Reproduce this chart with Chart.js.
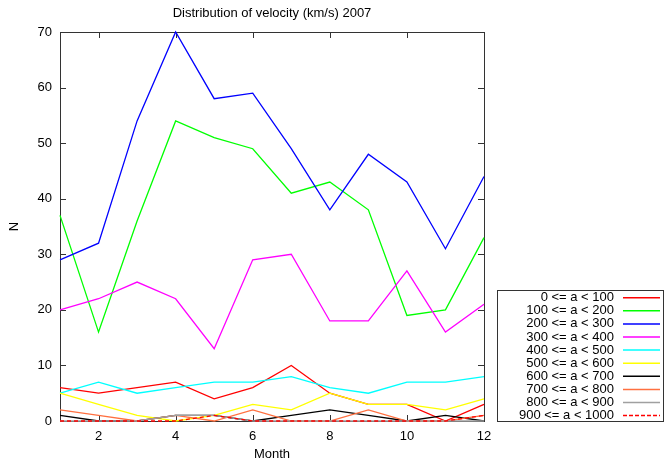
<!DOCTYPE html>
<html>
<head>
<meta charset="utf-8">
<script src="https://cdn.jsdelivr.net/npm/chart.js@4.4.1/dist/chart.umd.min.js"></script>
<style>
    html, body { margin: 0; padding: 0; background: #fff; }
    #wrap { width: 665px; height: 460px; }
</style>
</head>
<body>
<div id="wrap"><canvas id="chartVelocidad" width="665" height="460"></canvas></div>
<script>
// valores
const meses = [1, 2, 3, 4, 5, 6, 7, 8, 9, 10, 11, 12];
const xTicks = [2, 4, 6, 8, 10, 12];
const yTicks = [0, 10, 20, 30, 40, 50, 60, 70];

const rangos = [
    '0 <= a < 100', '100 <= a < 200', '200 <= a < 300', '300 <= a < 400', '400 <= a < 500',
    '500 <= a < 600', '600 <= a < 700', '700 <= a < 800', '800 <= a < 900', '900 <= a < 1000'
];

const r0_100 = [6, 5, 6, 7, 4, 6, 10, 5, 3, 3, 0, 3];
const r100_200 = [37, 16, 36, 54, 51, 49, 41, 43, 38, 19, 20, 33];
const r200_300 = [29, 32, 54, 70, 58, 59, 49, 38, 48, 43, 31, 44];
const r300_400 = [20, 22, 25, 22, 13, 29, 30, 18, 18, 27, 16, 21];
const r400_500 = [5, 7, 5, 6, 7, 7, 8, 6, 5, 7, 7, 8];
const r500_600 = [5, 3, 1, 0, 1, 3, 2, 5, 3, 3, 2, 4];
const r600_700 = [1, 0, 0, 1, 1, 0, 1, 2, 1, 0, 1, 0];
const r700_800 = [2, 1, 0, 1, 0, 2, 0, 0, 2, 0, 0, 1];
const r800_900 = [0, 0, 0, 1, 1, 0, 0, 0, 0, 0, 0, 0];
const r900_1000 = [0, 0, 0, 0, 1, 0, 0, 0, 0, 0, 0, 1];

const series = [r0_100, r100_200, r200_300, r300_400, r400_500, r500_600, r600_700, r700_800, r800_900, r900_1000];
const colores = ['#ff0000', '#00ff00', '#0000ff', '#ff00ff', '#00ffff', '#ffff00', '#000000', '#ff7040', '#a0a0a0', '#ff0000'];

const FUENTE = "'Liberation Sans', Arial, sans-serif";

const datasets = series.map((vals, i) => ({
    label: rangos[i],
    data: vals.map((v, j) => ({ x: meses[j], y: v })),
    borderColor: colores[i],
    backgroundColor: colores[i],
    borderWidth: 1.3,
    borderDash: i === 9 ? [4, 3] : [],
    pointRadius: 0,
    tension: 0,
    fill: false,
    clip: 3,
    order: 10 - i
}));

// marco, ticks hacia adentro, titulos y leyenda estilo gnuplot
const marcoPlugin = {
    id: 'marcoGnuplot',
    beforeDatasetsDraw(chart) {
        const { ctx, chartArea: a, scales } = chart;
        ctx.save();
        ctx.strokeStyle = '#333';
        ctx.lineWidth = 1;
        ctx.strokeRect(a.left + 0.5, a.top + 0.5, a.right - a.left, a.bottom - a.top);
        ctx.beginPath();
        yTicks.forEach(v => {
            const y = Math.round(scales.y.getPixelForValue(v)) + 0.5;
            ctx.moveTo(a.left, y); ctx.lineTo(a.left + 6, y);
            ctx.moveTo(a.right, y); ctx.lineTo(a.right - 6, y);
        });
        xTicks.forEach(v => {
            const x = Math.round(scales.x.getPixelForValue(v)) + 0.5;
            ctx.moveTo(x, a.bottom); ctx.lineTo(x, a.bottom - 6);
            ctx.moveTo(x, a.top); ctx.lineTo(x, a.top + 6);
        });
        ctx.stroke();
        ctx.restore();
    },
    afterDraw(chart) {
        const { ctx, chartArea: a } = chart;
        ctx.save();
        ctx.fillStyle = '#000';
        ctx.textBaseline = 'middle';
        ctx.textAlign = 'center';
        ctx.font = `13px ${FUENTE}`;
        ctx.fillText('Distribution of velocity (km/s) 2007', (a.left + a.right) / 2, 13);
        ctx.fillText('Month', (a.left + a.right) / 2, 454);
        ctx.save();
        ctx.translate(14, (a.top + a.bottom) / 2);
        ctx.rotate(-Math.PI / 2);
        ctx.fillText('N', 0, 0);
        ctx.restore();

        // leyenda
        const box = { x: 497.5, y: 290.5, w: 166, h: 131 };
        ctx.strokeStyle = '#333';
        ctx.lineWidth = 1;
        ctx.strokeRect(box.x, box.y, box.w, box.h);
        ctx.textAlign = 'right';
        chart.data.datasets.forEach((ds, i) => {
            const y = 297.7 + i * 13.1;
            ctx.fillStyle = '#000';
            ctx.fillText(ds.label, 614, y);
            ctx.beginPath();
            ctx.lineWidth = 1.5;
            ctx.strokeStyle = colores[i];
            ctx.setLineDash(i === 9 ? [4, 2] : []);
            ctx.moveTo(623, y);
            ctx.lineTo(660, y);
            ctx.stroke();
            ctx.setLineDash([]);
        });
        ctx.restore();
    }
};

new Chart(document.getElementById('chartVelocidad').getContext('2d'), {
    type: 'line',
    data: { datasets },
    options: {
        responsive: false,
        animation: false,
        layout: { padding: { top: 32, right: 181, bottom: 0, left: 0 } },
        plugins: {
            legend: { display: false },
            title: { display: false },
            tooltip: { enabled: false }
        },
        scales: {
            x: {
                type: 'linear',
                min: 1,
                max: 12,
                grid: { display: false },
                border: { display: false },
                afterBuildTicks(scale) { scale.ticks = xTicks.map(v => ({ value: v })); },
                afterFit(scale) { scale.height = 39; },
                ticks: { color: '#000', padding: 0, maxRotation: 0, autoSkip: false, font: { size: 13, family: FUENTE } }
            },
            y: {
                type: 'linear',
                min: 0,
                max: 70,
                grid: { display: false },
                border: { display: false },
                afterBuildTicks(scale) { scale.ticks = yTicks.map(v => ({ value: v })); },
                afterFit(scale) { scale.width = 60; },
                ticks: { color: '#000', padding: 0, autoSkip: false, font: { size: 13, family: FUENTE } }
            }
        }
    },
    plugins: [marcoPlugin]
});
</script>
</body>
</html>
